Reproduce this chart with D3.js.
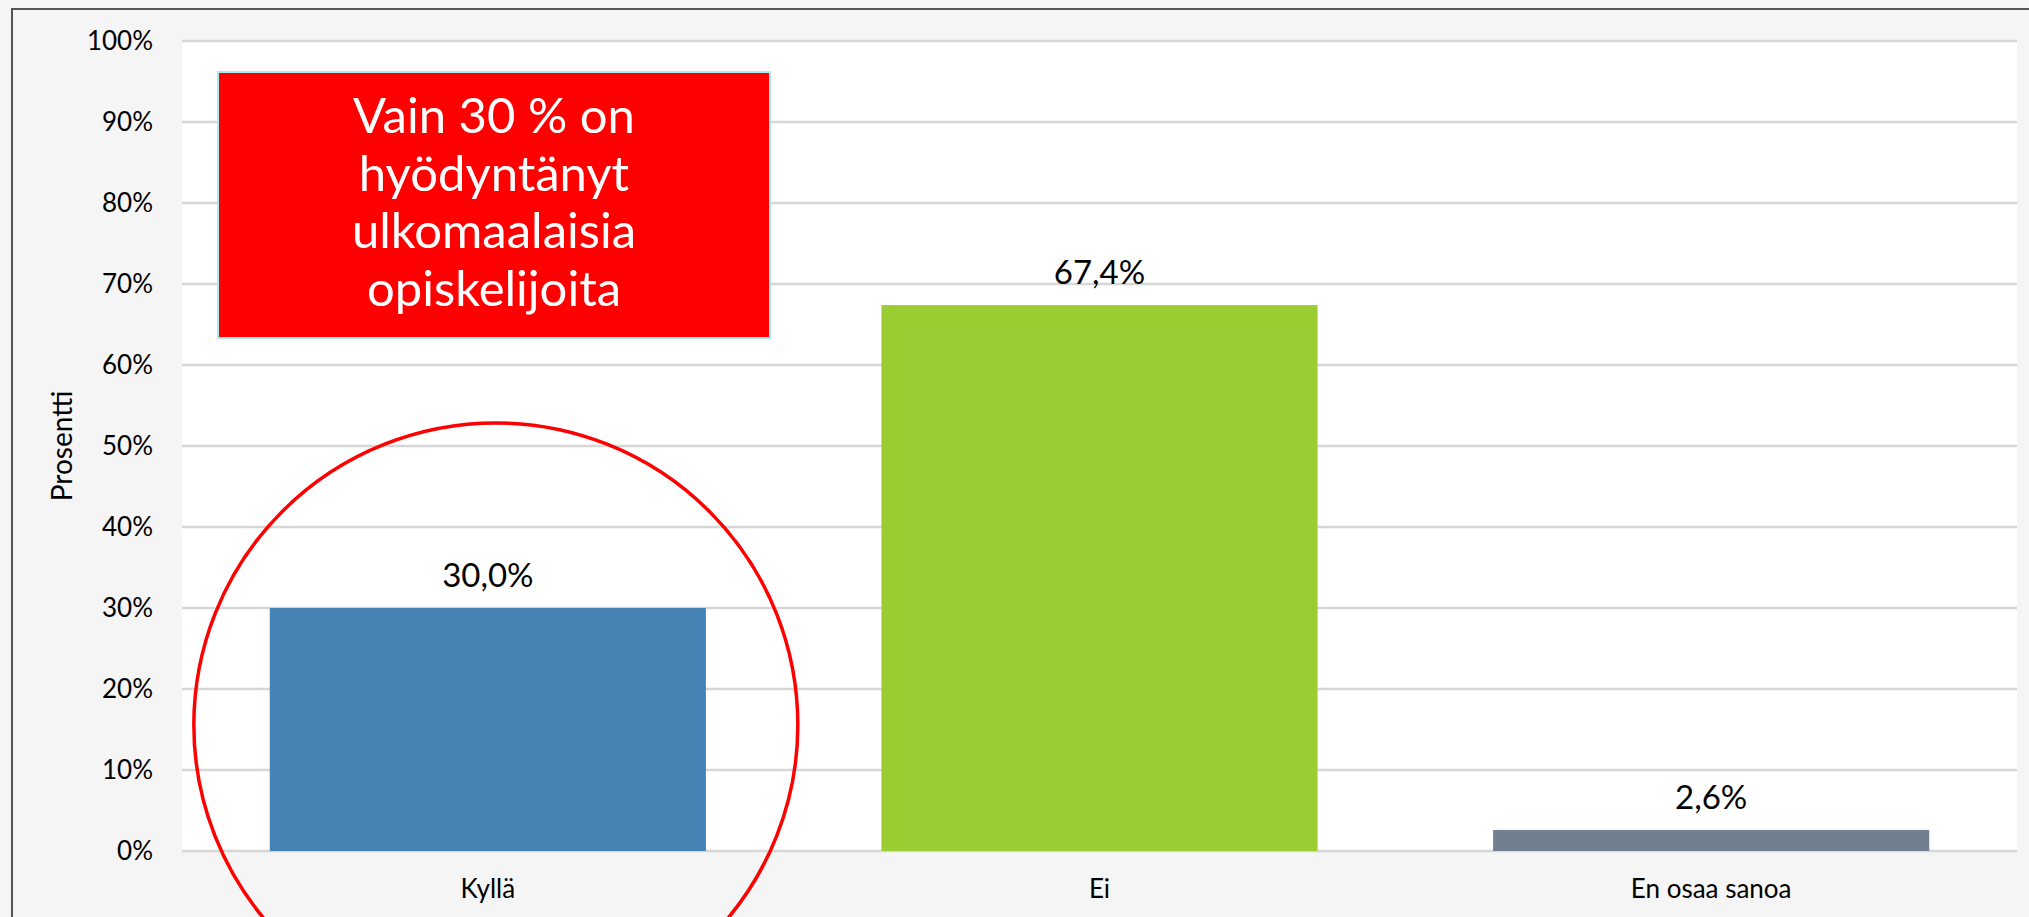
<!DOCTYPE html>
<html>
<head>
<meta charset="utf-8">
<script src="https://cdn.jsdelivr.net/npm/d3@7"></script>
<style>
  html, body { margin: 0; padding: 0; background: #f5f5f5; }
  svg { display: block; font-family: Lato, "Open Sans", sans-serif; }
</style>
</head>
<body>
<div id="visualization"></div>
<script>
// Data
var categories = ["Kyllä", "Ei", "En osaa sanoa"];
var values = [30.0, 67.4, 2.6];
var barColors = ["steelblue", "yellowgreen", "slategray"];
var yTicks = [0, 10, 20, 30, 40, 50, 60, 70, 80, 90, 100];
var boxLines = ["Vain 30 % on", "hyödyntänyt", "ulkomaalaisia", "opiskelijoita"];

function createBarChart() {
  var width = 2029;
  var height = 917;
  var plot = { left: 182, right: 2017, top: 41, bottom: 851 };

  var svg = d3.select("#visualization")
              .append("svg")
              .attr("width", width)
              .attr("height", height);

  // background and the frame line on top and left
  svg.append("rect")
     .attr("width", width).attr("height", height)
     .style("fill", "#f5f5f5");
  svg.append("path")
     .attr("d", "M12," + height + "V9H" + width)
     .style("fill", "none")
     .style("stroke", "#555")
     .style("stroke-width", 2);

  var x = d3.scaleBand()
            .domain(categories)
            .range([plot.left, plot.right])
            .paddingInner(0.287)
            .paddingOuter(0.1435);

  var y = d3.scaleLinear()
            .domain([0, 100])
            .range([plot.bottom, plot.top]);

  // white plot area
  svg.append("rect")
     .attr("x", plot.left)
     .attr("y", plot.top)
     .attr("width", plot.right - plot.left)
     .attr("height", plot.bottom - plot.top)
     .style("fill", "#ffffff");

  // gridlines
  svg.selectAll(".grid")
     .data(yTicks)
     .enter()
     .append("line")
     .attr("class", "grid")
     .attr("x1", plot.left)
     .attr("x2", plot.right)
     .attr("y1", function(d) { return y(d); })
     .attr("y2", function(d) { return y(d); })
     .style("stroke", "#d6d6d6")
     .style("stroke-width", 2.5);

  // y axis labels
  var yAxis = svg.append("g")
     .attr("transform", "translate(" + plot.left + ",0)")
     .call(d3.axisLeft(y)
             .tickValues(yTicks)
             .tickFormat(function(d) { return d + "%"; })
             .tickSize(0)
             .tickPadding(29));
  yAxis.select(".domain").remove();
  yAxis.selectAll("text")
       .style("font-family", "Lato, sans-serif")
       .style("font-size", "26px")
       .style("fill", "#000");

  // x axis labels
  var xAxis = svg.append("g")
     .attr("transform", "translate(0," + plot.bottom + ")")
     .call(d3.axisBottom(x).tickSize(0).tickPadding(29));
  xAxis.select(".domain").remove();
  xAxis.selectAll("text")
       .style("font-family", "Lato, sans-serif")
       .style("font-size", "26px")
       .style("fill", "#000");

  // axis title
  svg.append("text")
     .attr("transform", "translate(72," + ((plot.top + plot.bottom) / 2) + ") rotate(-90)")
     .attr("text-anchor", "middle")
     .style("font-size", "28px")
     .style("fill", "#000")
     .text("Prosentti");

  // bars
  svg.selectAll(".bar")
     .data(values)
     .enter()
     .append("rect")
     .attr("class", "bar")
     .attr("x", function(d, i) { return x(categories[i]); })
     .attr("width", x.bandwidth())
     .attr("y", function(d) { return y(d); })
     .attr("height", function(d) { return y(0) - y(d); })
     .style("fill", function(d, i) { return barColors[i]; });

  // value labels
  svg.selectAll(".label")
     .data(values)
     .enter()
     .append("text")
     .attr("class", "label")
     .attr("x", function(d, i) { return x(categories[i]) + x.bandwidth() / 2; })
     .attr("y", function(d) { return y(d) - 21; })
     .attr("text-anchor", "middle")
     .style("font-size", "33px")
     .style("fill", "#000")
     .text(function(d) { return d.toFixed(1).replace(".", ",") + "%"; });

  // red callout box
  var box = { x: 218, y: 72, w: 552, h: 266 };
  svg.append("rect")
     .attr("x", box.x)
     .attr("y", box.y)
     .attr("width", box.w)
     .attr("height", box.h)
     .style("fill", "#ff0000")
     .style("stroke", "#b0e8f2")
     .style("stroke-width", 2);

  svg.append("g")
     .selectAll("text")
     .data(boxLines)
     .enter()
     .append("text")
     .attr("x", box.x + box.w / 2)
     .attr("y", function(d, i) { return 133 + i * 57.5; })
     .attr("text-anchor", "middle")
     .style("font-size", "49px")
     .style("fill", "#ffffff")
     .text(function(d) { return d; });

  // circle around the first bar
  svg.append("circle")
     .attr("cx", x(categories[0]) + x.bandwidth() / 2 + 8)
     .attr("cy", 725)
     .attr("r", 302)
     .style("fill", "none")
     .style("stroke", "#ff0000")
     .style("stroke-width", 3.5);

  return svg.node();
}

createBarChart();
</script>
</body>
</html>
